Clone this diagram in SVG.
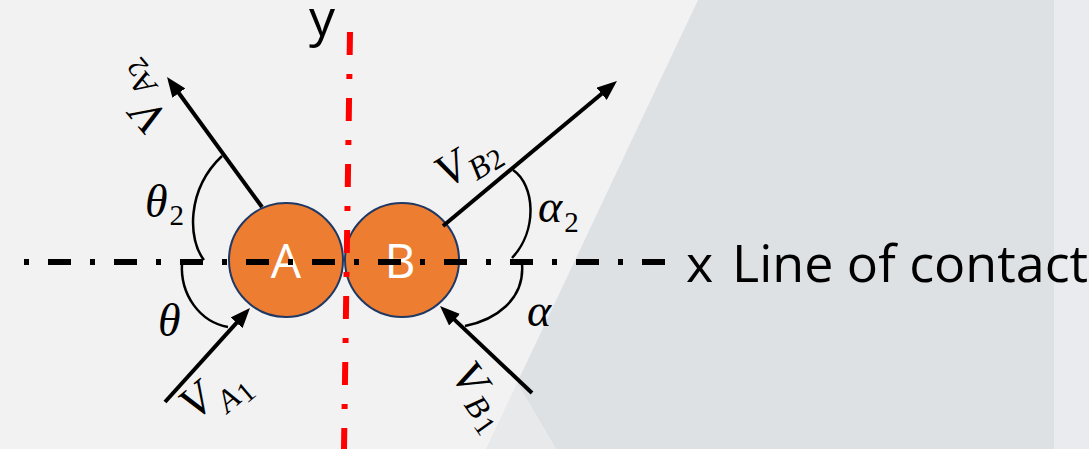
<svg xmlns="http://www.w3.org/2000/svg" width="1089" height="449" viewBox="0 0 1089 449">
<defs>
<style>
.ax{fill:none;stroke-width:6;stroke-dasharray:23 19 5 19}
.vec{stroke:#000;stroke-width:4;fill:none;marker-end:url(#ah)}
.arc{stroke:#000;stroke-width:2.5;fill:none}
.ball{fill:#ed7d31;stroke:#1f3864;stroke-width:2}
.lbl{font-family:"Open Sans",sans-serif;font-size:48px;fill:#fff;text-anchor:middle}
.ui{font-family:"Open Sans",sans-serif;font-size:52px;fill:#000}
.m{font-family:"Liberation Serif","Times New Roman",serif;font-style:italic;fill:#000}
.sub{font-size:32px}
.n{font-style:normal;font-size:29px}
</style>
<marker id="ah" markerUnits="userSpaceOnUse" markerWidth="20" markerHeight="16" refX="6" refY="8" orient="auto">
<path d="M0,0 L20,8 L0,16 z" fill="#000"/>
</marker>
</defs>
<g id="background">
<rect width="1089" height="449" fill="#f2f2f2"/>
<polygon points="698,0 1054,0 1054,449 556,449 517,383" fill="#dee1e4"/>
<polygon points="517,383 486,449 556,449" fill="#e8e9eb"/>
<rect x="1054" y="0" width="35" height="449" fill="#e9ebee"/>
</g>
<g id="ballA">
<circle class="ball" cx="286" cy="260" r="57"/>
<text class="lbl" x="286" y="278">A</text>
</g>
<g id="ballB">
<circle class="ball" cx="402" cy="260" r="57"/>
<text class="lbl" x="400" y="278">B</text>
</g>
<g id="axes">
<line class="ax" x1="350" y1="32" x2="344" y2="449" stroke="#ff0000"/>
<line class="ax" x1="20" y1="262" x2="665" y2="262" stroke="#000" stroke-dashoffset="38"/>
<text class="ui" x="309" y="36">y</text>
<text class="ui" x="686" y="282">x</text>
<text class="ui" x="732" y="282">Line of contact</text>
</g>
<g id="connectors">
<line class="vec" x1="262" y1="207" x2="175.3" y2="88.3"/>
<line class="vec" x1="443" y1="226" x2="606.2" y2="90"/>
<line class="vec" x1="165" y1="402" x2="240.6" y2="318.4"/>
<line class="vec" x1="532" y1="393" x2="450.2" y2="315.6"/>
</g>
<g id="angles">
<path class="arc" d="M204,260 C188,240 186,190 222,156"/>
<path class="arc" d="M182,263 C180,295 200,322 228,327"/>
<path class="arc" d="M513,170 C535,185 538,230 512,258"/>
<path class="arc" d="M522,264 C525,300 495,320 465,326"/>
<text class="m" x="145" y="217" font-size="46">θ<tspan class="n" font-size="32" dx="2" dy="8">2</tspan></text>
<text class="m" x="158" y="336" font-size="46">θ</text>
<text class="m" x="538" y="222" font-size="46">α<tspan class="n" font-size="32" dx="2" dy="10">2</tspan></text>
<text class="m" x="527" y="326" font-size="46">α</text>
</g>
<g id="labelVA2" transform="translate(169.5,118.1) rotate(-130)">
<text class="m" font-size="46">V<tspan class="sub" dx="5" dy="12">A</tspan><tspan class="n" dx="0" dy="6">2</tspan></text>
</g>
<g id="labelVB2" transform="translate(447.1,189.1) rotate(-32)">
<text class="m" font-size="46">V<tspan class="sub" dx="1" dy="9">B</tspan><tspan class="n" dx="1" dy="1">2</tspan></text>
</g>
<g id="labelVA1" transform="translate(194.9,421.5) rotate(-40)">
<text class="m" font-size="46">V<tspan class="sub" dx="2" dy="15">A</tspan><tspan class="n" dx="1" dy="5">1</tspan></text>
</g>
<g id="labelVB1" transform="translate(449.7,375.1) rotate(55)">
<text class="m" font-size="46">V<tspan class="sub" dx="4" dy="6">B</tspan><tspan class="n" dx="3" dy="4">1</tspan></text>
</g>
</svg>
